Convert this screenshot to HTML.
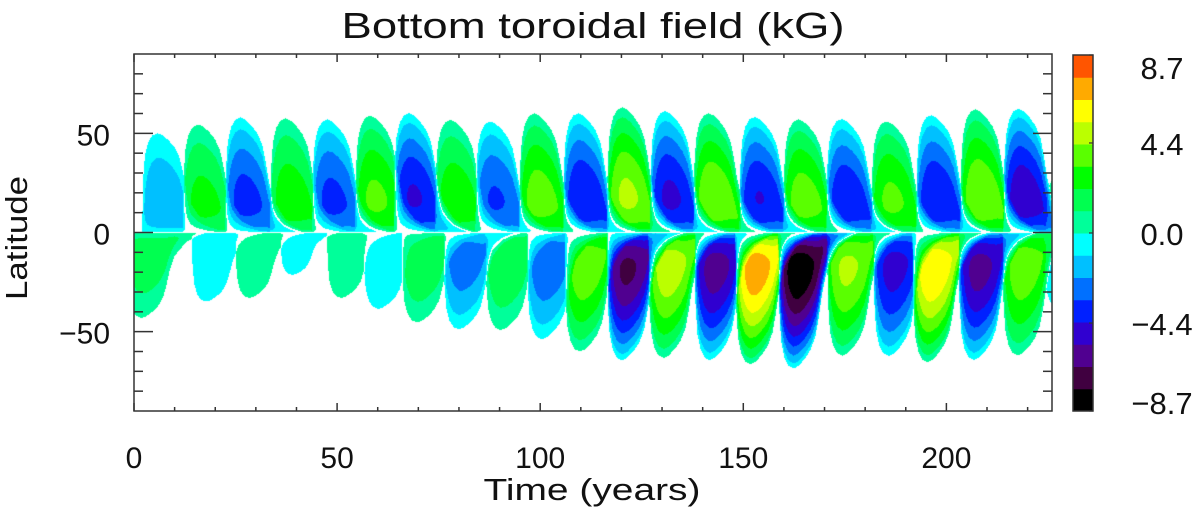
<!DOCTYPE html>
<html><head><meta charset="utf-8"><style>
html,body{margin:0;padding:0;background:#fff;width:1200px;height:512px;overflow:hidden}
#wrap{position:relative;width:1200px;height:512px}
#field{position:absolute;left:134px;top:54px}
svg{position:absolute;left:0;top:0}
text{font-family:"Liberation Sans",sans-serif;fill:#111}
</style></head><body>
<div id="wrap">
<canvas id="field" width="918" height="357"></canvas>
<svg id="ax" width="1200" height="512"></svg>
</div>
<script>
// ---- data ----
const nStart=[2,12,22.4,33.5,43.8,54.4,63.9,74.1,84,94.8,105.6,116.4,127,137.7,149,159.8,170.4,181.5,192.5,203.4,214,224.5];
const nAmp=[-1.9,2.5,-3.7,2.8,-3.6,3.5,-4.5,2.9,-3.4,3.8,-4.3,4.6,-4.6,4.2,-4.4,3.8,-4.2,3.5,-4.3,4.2,-5.2,1.5];
const nLat=[52,56,59,59,58,60,61,58,57,61,61,64,62,61,59,58,58,57,60,63,63,30];
const sStart=[-2,14.2,24.9,36,47.5,56.4,65.9,76.2,86.5,96.7,106,116.4,126.6,138,148,158.6,170.6,182,191.6,203,213.8,224];
const sAmp=[1.7,-1.0,1.0,-0.8,1.0,-1.0,2.0,-2.8,2.0,-3.0,4.0,-6.8,5.0,-6.0,7.2,-8.5,4.6,-4.8,6.4,-5.9,3.9,-1.5];
const sLat=[45,38,36,24,36,42,47,50,51,55,61,65,64,65,67,69,63,63,66,65,63,40];
const cbLabels=["8.7","4.4","0.0","\u22124.4","\u22128.7"];
const cbValues=[8.7,4.4,0,-4.4,-8.7];
const xTicks=[0,50,100,150,200];
const yTicks=[50,0,-50];
const bandColors=["#000000","#400040","#500090","#3000d0","#0020ff","#0070ff","#00c0ff","#00ffff","#00ff9a","#00ff50","#00ff00","#5aff00","#bbff00","#ffff00","#ffaa00","#ff5500"];
const vMin=-8.7,vMax=8.7;

// ---- geometry ----
const PL=134,PT=54,PW=918,PH=357,tMin=0,tMax=226,latMin=-90,latMax=90;
function X(t){return PL+(t-tMin)/(tMax-tMin)*PW;}
function Y(l){return PT+(latMax-l)/(latMax-latMin)*PH;}
// lobe outline: years since start -> fraction of max latitude
const shS=[0,0.2,0.7,1.5,2.5,3.8,5,6.5,8,9.2,10,10.8,12,14.8,17,20];
const shU=[0,0.55,0.8,0.92,0.98,1,0.98,0.93,0.86,0.76,0.62,0.45,0.28,0.12,0.06,0];
const LEN=20;
function umax(s){if(s<=0||s>=LEN)return 0;for(let i=1;i<shS.length;i++){if(s<=shS[i]){const f=(s-shS[i-1])/(shS[i]-shS[i-1]);return shU[i-1]+f*(shU[i]-shU[i-1]);}}return 0;}
function lobe(t,al,t0,A,L){
  const k=Math.min(1,0.45+L/80);
  const s=(t-t0)/k; if(s<=0||s>=LEN)return 0;
  const u=al/L; const um=umax(s); if(um<=0)return 0;
  const r=u/um; if(r>=1)return 0;
  const f1=Math.sin(Math.PI*Math.pow(r,0.58));
  const f2=Math.sin(Math.PI*Math.sqrt(s/LEN));
  return A*Math.pow(Math.max(0,f1*f2),0.8);
}
function hex(c){return [parseInt(c.substr(1,2),16),parseInt(c.substr(3,2),16),parseInt(c.substr(5,2),16)];}
const rgb=bandColors.map(hex);
(function(){
  const cv=document.getElementById('field');const ctx=cv.getContext('2d');
  const img=ctx.createImageData(PW,PH);const d=img.data;
  const step=(vMax-vMin)/bandColors.length;
  for(let py=0;py<PH;py++){
    const lat=latMax-(py+0.5)/PH*(latMax-latMin);
    const north=lat>0, al=Math.abs(lat);
    const st=north?nStart:sStart, am=north?nAmp:sAmp, la=north?nLat:sLat;
    for(let px=0;px<PW;px++){
      const t=tMin+(px+0.5)/PW*(tMax-tMin);
      let B=0;
      for(let k=0;k<st.length;k++){const dt=t-st[k];if(dt>0&&dt<LEN)B+=lobe(t,al,st[k],am[k],la[k]);}
      const o=(py*PW+px)*4;
      if(Math.abs(B)<0.22){d[o]=255;d[o+1]=255;d[o+2]=255;}
      else{let bi=Math.floor((B-vMin)/step);bi=Math.max(0,Math.min(15,bi));const c=rgb[bi];d[o]=c[0];d[o+1]=c[1];d[o+2]=c[2];}
      d[o+3]=255;
    }
  }
  ctx.putImageData(img,0,0);
})();

// ---- axes ----
const svg=document.getElementById('ax');const NS="http://www.w3.org/2000/svg";
function mk(tag,attrs,parent){const e=document.createElementNS(NS,tag);for(const k in attrs)e.setAttribute(k,attrs[k]);(parent||svg).appendChild(e);return e;}
const frame=mk('rect',{x:PL,y:PT,width:PW,height:PH,fill:'none',stroke:'#333','stroke-width':1.5});


for(let t=0;t<=tMax;t+=10){
  const maj=t%50===0, len=maj?8:4, x=X(t);
  const a=mk('line',{x1:x,y1:PT+PH,x2:x,y2:PT+PH-len,stroke:'#333','stroke-width':1.5});
  
  
  const b=mk('line',{x1:x,y1:PT,x2:x,y2:PT+len,stroke:'#333','stroke-width':1.5});
  
  
}
for(let l=-80;l<=80;l+=10){
  const maj=l%50===0, len=maj?19:9, y=Y(l);
  const a=mk('line',{x1:PL,y1:y,x2:PL+len,y2:y,stroke:'#333','stroke-width':1.5});
  
  
  const b=mk('line',{x1:PL+PW,y1:y,x2:PL+PW-len,y2:y,stroke:'#333','stroke-width':1.5});
  
  
}
xTicks.forEach(v=>{const e=mk('text',{x:X(v),y:468,'font-size':30,'text-anchor':'middle'});e.textContent=String(v);
  
  });
yTicks.forEach(v=>{const e=mk('text',{x:110,y:Y(v)+12,'font-size':30,'text-anchor':'end'});e.textContent=v<0?'\u2212'+Math.abs(v):String(v);
  
  });
const title=mk('text',{x:593,y:38,'font-size':36,'text-anchor':'middle',textLength:503,lengthAdjust:'spacingAndGlyphs'});
title.textContent='Bottom toroidal field (kG)';


const xt=mk('text',{x:592,y:500,'font-size':31,'text-anchor':'middle',textLength:217,lengthAdjust:'spacingAndGlyphs'});
xt.textContent='Time (years)';


const yt=mk('text',{x:0,y:0,'font-size':31,'text-anchor':'middle',transform:'translate(27,238) rotate(-90)',textLength:124,lengthAdjust:'spacingAndGlyphs'});
yt.textContent='Latitude';



// ---- colorbar ----
const CBX=1073,CBW=20,CBT=55,CBB=411;
const bh=(CBB-CBT)/bandColors.length;
bandColors.forEach((c,i)=>{const r=mk('rect',{x:CBX,y:CBB-(i+1)*bh,width:CBW,height:bh+0.5,fill:c});
  
  });
const cbf=mk('rect',{x:CBX,y:CBT,width:CBW,height:CBB-CBT,fill:'none',stroke:'#333','stroke-width':1.5});


function CY(v){return CBB-(v-vMin)/(vMax-vMin)*(CBB-CBT);}
cbValues.forEach((v,i)=>{
  let y=CY(v); if(i===0)y=67; if(i===cbValues.length-1)y=402;
  const tk=mk('line',{x1:CBX+CBW,y1:CY(v),x2:CBX+CBW-4,y2:CY(v),stroke:'#333','stroke-width':1.2});
  
  
  const e=mk('text',{x:1162,y:y+12,'font-size':31,'text-anchor':'middle'});e.textContent=cbLabels[i];
  
  
});
</script>
</body></html>
